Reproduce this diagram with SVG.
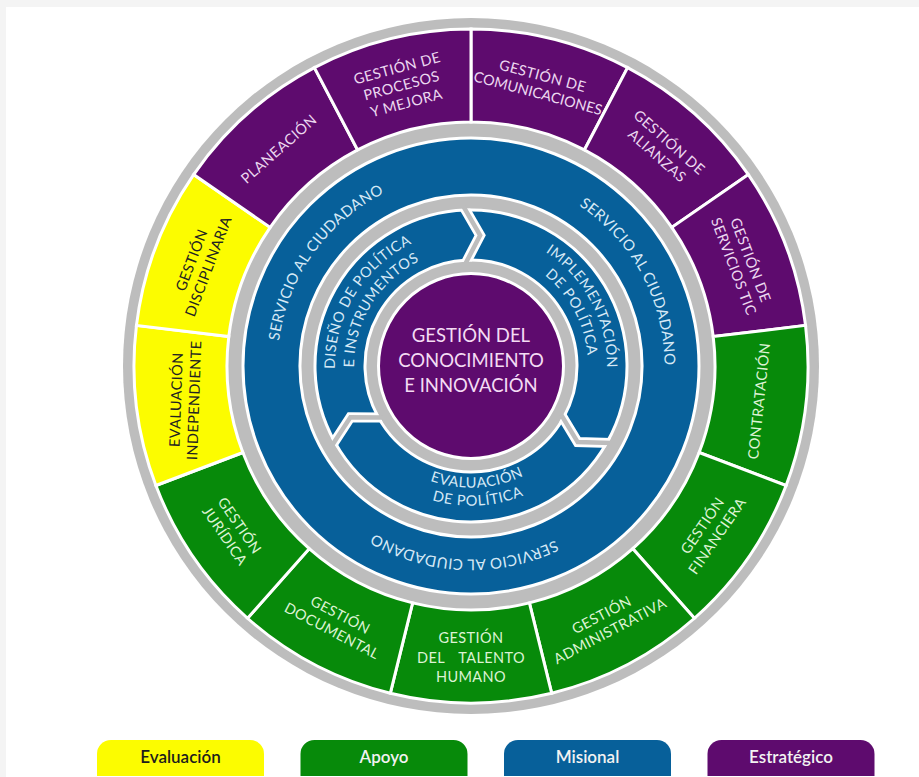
<svg xmlns="http://www.w3.org/2000/svg" width="919" height="777" viewBox="0 0 919 777">
<style>
  .gray{fill:#bdbdbd}
  .p{fill:#5e0b6e;stroke:#ffffff;stroke-width:3}
  .g{fill:#078a0a;stroke:#ffffff;stroke-width:3}
  .y{fill:#fcfc00;stroke:#ffffff;stroke-width:3}
  .b{fill:#07609a;stroke:#ffffff;stroke-width:3;fill-rule:evenodd}
  text{font-family:Lato,"Open Sans","DejaVu Sans",sans-serif}
  .t{font-size:14.5px;text-anchor:middle;letter-spacing:0.4px}
  .tp{fill:#ecd8f0}
  .tg{fill:#dcf3d4}
  .ty{fill:#222222}
  .tb{fill:#d6e9f6;font-size:14.5px;letter-spacing:0.6px;text-anchor:middle}
  .ts{fill:#d6e9f6;font-size:15px;letter-spacing:0.3px;text-anchor:middle}
  .tc{fill:#f4dcf4;font-size:18.5px;text-anchor:middle}
  .leg{font-size:17px;font-weight:600;text-anchor:middle}
  .gapw{fill:none;stroke:#ffffff;stroke-width:10;stroke-linejoin:miter}
  .gapg{fill:none;stroke:#bdbdbd;stroke-width:4.5;stroke-linejoin:miter}
</style>
<defs>
  <path id="cwS" d="M 471 172.5 A 193.5 193.5 0 1 1 471 559.5 A 193.5 193.5 0 1 1 471 172.5"/>
  <path id="cw136" d="M 471 230 A 136 136 0 1 1 471 502 A 136 136 0 1 1 471 230"/>
  <path id="cw117" d="M 471 249 A 117 117 0 1 1 471 483 A 117 117 0 1 1 471 249"/>
  <path id="ccw122" d="M 471 244.3 A 121.7 121.7 0 1 0 471 487.7 A 121.7 121.7 0 1 0 471 244.3"/>
  <path id="ccw140" d="M 471 226.3 A 139.7 139.7 0 1 0 471 505.7 A 139.7 139.7 0 1 0 471 226.3"/>
  <clipPath id="innerClip">
    <path clip-rule="evenodd" d="M 471 208.5 A 157.5 157.5 0 1 1 471 523.5 A 157.5 157.5 0 1 1 471 208.5 Z M 471 261.5 A 104.5 104.5 0 1 1 471 470.5 A 104.5 104.5 0 1 1 471 261.5 Z"/>
  </clipPath>
</defs>

<rect x="0" y="0" width="919" height="777" fill="#ffffff"/>
<rect x="0" y="0" width="919" height="7" fill="#f4f4f4"/>
<rect x="0" y="0" width="6" height="777" fill="#f4f4f4"/>

<circle cx="471" cy="366" r="348" class="gray"/>

<!-- outer ring segments -->
<g id="n-comunicaciones">
  <path class="p" d="M 471 29 A 337 337 0 0 1 627.61 67.60 L 584.39 149.95 A 244 244 0 0 0 471 122 Z"/>
  <text class="t tp" transform="translate(540.4 84.4) rotate(15)"><tspan x="0" y="-3.8">GESTIÓN DE</tspan><tspan x="0" y="14.2" letter-spacing="0">COMUNICACIONES</tspan></text>
</g>
<g id="n-alianzas">
  <path class="p" d="M 627.61 67.60 A 337 337 0 0 1 748.34 174.56 L 671.81 227.39 A 244 244 0 0 0 584.39 149.95 Z"/>
  <text class="t tp" transform="translate(663.3 148.9) rotate(41.5)"><tspan x="0" y="-3.8">GESTIÓN DE</tspan><tspan x="0" y="14.2">ALIANZAS</tspan></text>
</g>
<g id="n-servicios-tic">
  <path class="p" d="M 748.34 174.56 A 337 337 0 0 1 805.54 325.38 L 713.22 336.59 A 244 244 0 0 0 671.81 227.39 Z"/>
  <text class="t tp" transform="translate(742.2 263.2) rotate(69.2)"><tspan x="0" y="-3.8">GESTIÓN DE</tspan><tspan x="0" y="14.2">SERVICIOS TIC</tspan></text>
</g>
<g id="n-contratacion">
  <path class="g" d="M 805.54 325.38 A 337 337 0 0 1 786.10 485.50 L 699.14 452.52 A 244 244 0 0 0 713.22 336.59 Z"/>
  <text class="t tg" transform="translate(758.9 401.0) rotate(-84)"><tspan x="0" y="5.2">CONTRATACIÓN</tspan></text>
</g>
<g id="n-financiera">
  <path class="g" d="M 786.10 485.50 A 337 337 0 0 1 694.47 618.25 L 632.80 548.64 A 244 244 0 0 0 699.14 452.52 Z"/>
  <text class="t tg" transform="translate(709.7 530.7) rotate(-55.4)"><tspan x="0" y="-3.8">GESTIÓN</tspan><tspan x="0" y="14.2">FINANCIERA</tspan></text>
</g>
<g id="n-administrativa">
  <path class="g" d="M 694.47 618.25 A 337 337 0 0 1 551.65 693.21 L 529.39 602.91 A 244 244 0 0 0 632.80 548.64 Z"/>
  <text class="t tg" transform="translate(605.8 622.8) rotate(-27.7)"><tspan x="0" y="-3.8">GESTIÓN</tspan><tspan x="0" y="14.2">ADMINISTRATIVA</tspan></text>
</g>
<g id="n-talento-humano">
  <path class="g" d="M 551.65 693.21 A 337 337 0 0 1 390.35 693.21 L 412.61 602.91 A 244 244 0 0 0 529.39 602.91 Z"/>
  <text class="t tg" transform="translate(471 657) rotate(0)"><tspan x="0" y="-13.8">GESTIÓN</tspan><tspan x="0" y="5.5" word-spacing="10">DEL TALENTO</tspan><tspan x="0" y="24.8">HUMANO</tspan></text>
</g>
<g id="n-documental">
  <path class="g" d="M 390.35 693.21 A 337 337 0 0 1 247.53 618.25 L 309.20 548.64 A 244 244 0 0 0 412.61 602.91 Z"/>
  <text class="t tg" transform="translate(336.2 622.8) rotate(27.7)"><tspan x="0" y="-3.8">GESTIÓN</tspan><tspan x="0" y="14.2">DOCUMENTAL</tspan></text>
</g>
<g id="n-juridica">
  <path class="g" d="M 247.53 618.25 A 337 337 0 0 1 155.90 485.50 L 242.86 452.52 A 244 244 0 0 0 309.20 548.64 Z"/>
  <text class="t tg" transform="translate(232.3 530.7) rotate(55.4)"><tspan x="0" y="-3.8">GESTIÓN</tspan><tspan x="0" y="14.2">JURÍDICA</tspan></text>
</g>
<g id="n-evaluacion-independiente">
  <path class="y" d="M 155.90 485.50 A 337 337 0 0 1 136.46 325.38 L 228.78 336.59 A 244 244 0 0 0 242.86 452.52 Z"/>
  <text class="t ty" transform="translate(185 400) rotate(-88)"><tspan x="0" y="-3.8">EVALUACIÓN</tspan><tspan x="0" y="14.2">INDEPENDIENTE</tspan></text>
</g>
<g id="n-disciplinaria">
  <path class="y" d="M 136.46 325.38 A 337 337 0 0 1 193.66 174.56 L 270.19 227.39 A 244 244 0 0 0 228.78 336.59 Z"/>
  <text class="t ty" transform="translate(199.8 263.2) rotate(-69.2)"><tspan x="0" y="-3.8">GESTIÓN</tspan><tspan x="0" y="14.2">DISCIPLINARIA</tspan></text>
</g>
<g id="n-planeacion">
  <path class="p" d="M 193.66 174.56 A 337 337 0 0 1 314.39 67.60 L 357.61 149.95 A 244 244 0 0 0 270.19 227.39 Z"/>
  <text class="t tp" transform="translate(278.7 148.9) rotate(-41.5)"><tspan x="0" y="5.2">PLANEACIÓN</tspan></text>
</g>
<g id="n-procesos-mejora">
  <path class="p" d="M 314.39 67.60 A 337 337 0 0 1 471 29 L 471 122 A 244 244 0 0 0 357.61 149.95 Z"/>
  <text class="t tp" transform="translate(401.6 85.4) rotate(-15)"><tspan x="0" y="-12.8">GESTIÓN DE</tspan><tspan x="0" y="5.2">PROCESOS</tspan><tspan x="0" y="23.2">Y MEJORA</tspan></text>
</g>

<!-- servicio al ciudadano ring -->
<g id="n-servicio-ciudadano">
  <path class="b" d="M 471 138 A 228 228 0 1 1 471 594 A 228 228 0 1 1 471 138 Z M 471 195 A 171 171 0 1 1 471 537 A 171 171 0 1 1 471 195 Z"/>
  <text class="ts"><textPath href="#cwS" startOffset="1031">SERVICIO AL CIUDADANO</textPath></text>
  <text class="ts"><textPath href="#cwS" startOffset="209">SERVICIO AL CIUDADANO</textPath></text>
  <text class="ts"><textPath href="#cwS" startOffset="615">SERVICIO AL CIUDADANO</textPath></text>
</g>

<!-- inner ring segments -->
<g id="n-diseno">
  <path class="b" d="M 334.56 441.63 A 156 156 0 0 1 465.56 210.10 L 480.14 235.32 L 467.30 260.06 A 106 106 0 0 0 378.29 417.39 L 350.41 417.19 Z"/>
  <text class="tb"><textPath href="#cw136" startOffset="715.7">DISEÑO DE POLÍTICA</textPath></text>
  <text class="tb"><textPath href="#cw117" startOffset="615.7">E INSTRUMENTOS</textPath></text>
</g>
<g id="n-implementacion">
  <path class="b" d="M 465.56 210.10 A 156 156 0 0 1 606.78 442.82 L 577.65 442.07 L 563.26 418.20 A 106 106 0 0 0 467.30 260.06 L 480.14 235.32 Z"/>
  <text class="tb"><textPath href="#cw136" startOffset="147.2">IMPLEMENTACIÓN</textPath></text>
  <text class="tb"><textPath href="#cw117" startOffset="126.6">DE POLÍTICA</textPath></text>
</g>
<g id="n-evaluacion-politica">
  <path class="b" d="M 606.78 442.82 A 156 156 0 0 1 334.56 441.63 L 350.41 417.19 L 378.29 417.39 A 106 106 0 0 0 563.26 418.20 L 577.65 442.07 Z"/>
  <text class="tb"><textPath href="#ccw122" startOffset="388.7">EVALUACIÓN</textPath></text>
  <text class="tb"><textPath href="#ccw140" startOffset="446.2">DE POLÍTICA</textPath></text>
</g>

<!-- connectors: cycle arrows between inner segments -->
<g id="connectors">
  <g clip-path="url(#innerClip)">
    <polyline class="gapw" points="463.37,206.32 480.14,235.32 465.37,263.77"/>
    <polyline class="gapw" points="611.15,442.93 577.65,442.07 561.10,414.62"/>
    <polyline class="gapw" points="332.18,445.30 350.41,417.19 382.47,417.42"/>
  </g>
  <polyline class="gapg" points="463.37,206.32 480.14,235.32 465.37,263.77"/>
  <polyline class="gapg" points="611.15,442.93 577.65,442.07 561.10,414.62"/>
  <polyline class="gapg" points="332.18,445.30 350.41,417.19 382.47,417.42"/>
</g>

<!-- center -->
<g id="n-conocimiento">
  <circle cx="471" cy="366" r="92.5" fill="#5e0b6e" stroke="#ffffff" stroke-width="3"/>
  <text class="tc"><tspan x="471" y="342">GESTIÓN DEL</tspan><tspan x="471" y="367">CONOCIMIENTO</tspan><tspan x="471" y="392">E INNOVACIÓN</tspan></text>
</g>

<!-- legend -->
<g id="legend-evaluacion">
  <path d="M 97 776 V 754 A 14 14 0 0 1 111 740 H 250 A 14 14 0 0 1 264 754 V 776 Z" fill="#fcfc00"/>
  <text class="leg" x="180.5" y="763" fill="#1d1d1d">Evaluación</text>
</g>
<g id="legend-apoyo">
  <path d="M 300.5 776 V 754 A 14 14 0 0 1 314.5 740 H 453.5 A 14 14 0 0 1 467.5 754 V 776 Z" fill="#078a0a"/>
  <text class="leg" x="384" y="763" fill="#f2f2f2">Apoyo</text>
</g>
<g id="legend-misional">
  <path d="M 504 776 V 754 A 14 14 0 0 1 518 740 H 657 A 14 14 0 0 1 671 754 V 776 Z" fill="#07609a"/>
  <text class="leg" x="587.5" y="763" fill="#f2f2f2">Misional</text>
</g>
<g id="legend-estrategico">
  <path d="M 707.5 776 V 754 A 14 14 0 0 1 721.5 740 H 860.5 A 14 14 0 0 1 874.5 754 V 776 Z" fill="#5e0b6e"/>
  <text class="leg" x="791" y="763" fill="#f2f2f2">Estratégico</text>
</g>
</svg>
